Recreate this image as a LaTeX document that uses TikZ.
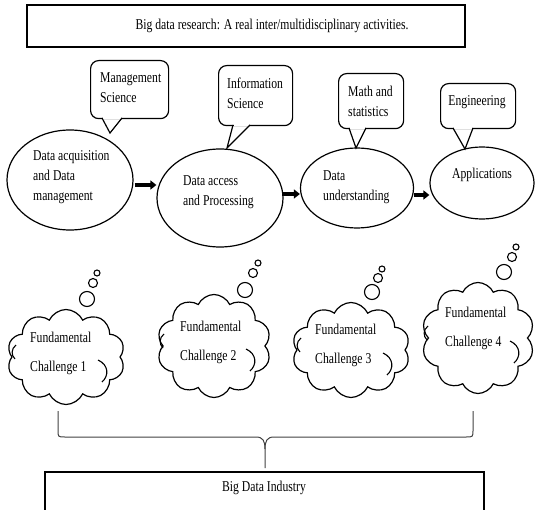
\documentclass[tikz,border=0pt]{standalone}
\usepackage{fontspec}
\setmainfont{Liberation Serif}[FakeStretch=0.78]
\usetikzlibrary{shapes.geometric,shapes.symbols,arrows.meta,calc}
\begin{document}
\begin{tikzpicture}[x=1pt,y=-1pt,
  every node/.style={font=\fontsize{15}{20}\selectfont, inner sep=0pt},
  txt/.style={align=left},
  oval/.style={ellipse, draw, line width=1.2pt, inner sep=0pt},
  bigbox/.style={draw, line width=1.6pt, inner sep=0pt},
  callbox/.style={draw, rectangle, rounded corners=8pt, line width=1.2pt, anchor=north west},
  pointer/.style={line width=1.2pt, line join=miter},
  bigarrow/.style={line width=3.6pt, -{Triangle[length=6pt,width=9pt]}},
  thought/.style={cloud, cloud puffs=10, cloud puff arc=130, cloud ignores aspect, draw, line width=1.2pt},
  innerarc/.style={line width=1.1pt},
  bubble/.style={circle, draw, line width=1.1pt},
  bracket/.style={line width=1pt, draw=black!75}
]
\useasboundingbox (0,0) rectangle (535,510);

% top and bottom boxes
\node[bigbox, minimum width=438, minimum height=42] (top) at (246,26) {};
\node (toptext) at (272,26) {Big data research: A real inter/multidisciplinary activities.};
\node[bigbox, minimum width=439, minimum height=42] (bot) at (264.5,493) {};
\node (bottext) at (264,488) {Big Data Industry};

% ellipses
\node[oval, minimum width=126, minimum height=100] (E1) at (70,180) {};
\node[txt, anchor=west] (E1t) at (33,177) {Data acquisition\\and Data\\management};
\node[oval, minimum width=126, minimum height=98] (E2) at (220,198) {};
\node[txt, anchor=west] (E2t) at (183,192) {Data access\\and Processing};
\node[oval, minimum width=113, minimum height=80] (E3) at (357,188) {};
\node[txt, anchor=west] (E3t) at (323,187) {Data\\understanding};
\node[oval, minimum width=104, minimum height=72] (E4) at (482,183) {};
\node (E4t) at (482,175) {Applications};

% arrows
\coordinate (a1) at ($(E1.east)+(1,5)$);
\coordinate (a2) at ($(E2.east)+(-2,-4)$);
\coordinate (a3) at ($(E3.east)+(0,7)$);
\draw[bigarrow] (a1) -- (a1 -| E2.west);
\draw[bigarrow] (a2) -- (a2 -| E3.west);
\draw[bigarrow] (a3) -- (a3 -| E4.west);

% callouts
\node[callbox, minimum width=78, minimum height=58] (C1) at (90,60) {};
\node[txt, anchor=west] (C1t) at (100,88) {Management\\Science};
\coordinate (p1a) at (102,118); \coordinate (p1b) at (122,118); \coordinate (p1t) at (110,133);
\fill[white] ($(p1a)+(0.8,-2)$) rectangle ($(p1b)+(-0.8,1.2)$);
\draw[pointer] (p1a) -- (p1t) -- (p1b);

\node[callbox, minimum width=74, minimum height=60] (C2) at (218,65) {};
\node[txt, anchor=west] (C2t) at (227,93) {Information\\Science};
\coordinate (p2a) at (233,125); \coordinate (p2b) at (250,125); \coordinate (p2t) at (227,148);
\fill[white] ($(p2a)+(0.8,-2)$) rectangle ($(p2b)+(-0.8,1.2)$);
\draw[pointer] (p2a) -- (p2t) -- (p2b);

\node[callbox, minimum width=65, minimum height=55] (C3) at (338,73) {};
\node[txt, anchor=west] (C3t) at (348,101.5) {Math and\\statistics};
\coordinate (p3a) at (349,128); \coordinate (p3b) at (366,128); \coordinate (p3t) at (356,148);
\fill[white] ($(p3a)+(0.8,-2)$) rectangle ($(p3b)+(-0.8,1.2)$);
\draw[pointer] (p3a) -- (p3t) -- (p3b);

\node[callbox, minimum width=75, minimum height=45] (C4) at (440,83) {};
\node (C4t) at (477,102) {Engineering};
\coordinate (p4a) at (453,128); \coordinate (p4b) at (473,128); \coordinate (p4t) at (465,149);
\fill[white] ($(p4a)+(0.8,-2)$) rectangle ($(p4b)+(-0.8,1.2)$);
\draw[pointer] (p4a) -- (p4t) -- (p4b);

% clouds
\node[thought, minimum width=118, minimum height=95] (K1) at (66,357) {};
\node[txt, anchor=west] (T1) at (30,353.5) {Fundamental\\[9pt]Challenge 1};
\node[bubble, minimum size=15] (B1a) at (87,299) {};
\node[bubble, minimum size=9] (B1b) at (93,283) {};
\node[bubble, minimum size=6] (B1c) at (97,273) {};

\node[thought, minimum width=114, minimum height=103] (K2) at (214,346) {};
\node[txt, anchor=west] (T2) at (180,342) {Fundamental\\[9pt]Challenge 2};
\node[bubble, minimum size=15] (B2a) at (245,290) {};
\node[bubble, minimum size=9] (B2b) at (253,273) {};
\node[bubble, minimum size=6] (B2c) at (258,263) {};

\node[thought, minimum width=118, minimum height=95] (K3) at (351,350) {};
\node[txt, anchor=west] (T3) at (315,345) {Fundamental\\[9pt]Challenge 3};
\node[bubble, minimum size=15] (B3a) at (372,292) {};
\node[bubble, minimum size=9] (B3b) at (378,278) {};
\node[bubble, minimum size=6] (B3c) at (382,269) {};

\node[thought, minimum width=113, minimum height=111] (K4) at (478,338) {};
\node[txt, anchor=west] (T4) at (445,328) {Fundamental\\[9pt]Challenge 4};
\node[bubble, minimum size=15] (B4a) at (504,272) {};
\node[bubble, minimum size=9] (B4b) at (512,257) {};
\node[bubble, minimum size=6] (B4c) at (516,247) {};

% inner cloud arcs
\foreach \k in {K1,K2,K3,K4}{
  \draw[innerarc] ($(\k.center)+(32,3)$) .. controls ($(\k.center)+(43,8)$) and ($(\k.center)+(43,19)$) .. ($(\k.center)+(36,25)$);
  \draw[innerarc] ($(\k.center)+(-50,-12)$) .. controls ($(\k.center)+(-55,-8)$) and ($(\k.center)+(-55,-2)$) .. ($(\k.center)+(-51,2)$);
}

% bracket
\coordinate (bl) at (58,411);
\coordinate (br) at (473,411);
\coordinate (bm) at (265,468);
\draw[bracket] (bl) -- ++(0,19) .. controls ++(0,7) .. ++(7,7) -- (256,437)
  .. controls (263,437) and (265,441) .. (265,449) -- (bm);
\draw[bracket] (br) -- ++(0,19) .. controls ++(0,7) .. ++(-7,7) -- (274,437)
  .. controls (267,437) and (265,441) .. (265,449);
\end{tikzpicture}
\end{document}
